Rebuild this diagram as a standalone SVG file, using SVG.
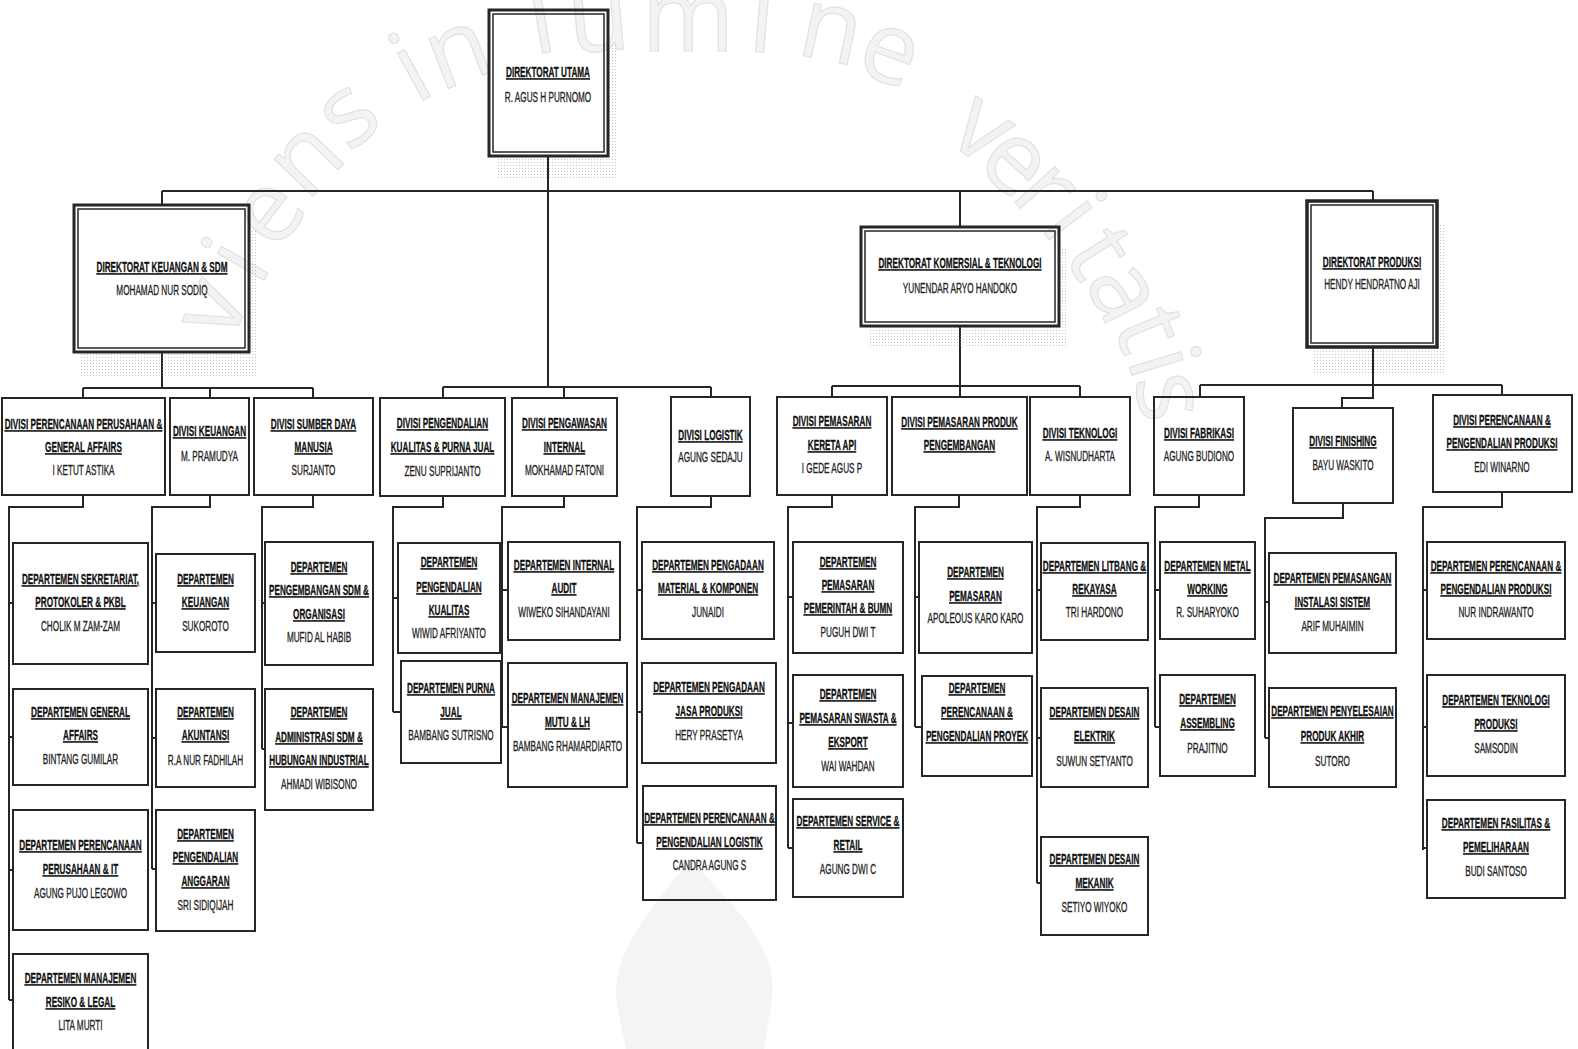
<svg xmlns="http://www.w3.org/2000/svg" width="1578" height="1049" viewBox="0 0 1578 1049">
<style>
text{font-family:"Liberation Sans",Arial,sans-serif;font-size:14px;text-anchor:middle;fill:#111;stroke:#111;stroke-width:.3}
.h{font-weight:bold;text-decoration:underline;text-decoration-thickness:1.5px}
.n{fill:#222;stroke:#222}
.node rect{fill:none;stroke:#262626;stroke-width:2}
.dir rect.o{fill:none;stroke:#262626;stroke-width:3}
.dir rect.i{fill:none;stroke:#262626;stroke-width:1.5}
.dir rect.sh{fill:url(#stip);stroke:none;opacity:.5}
.conn path{fill:none;stroke:#262626;stroke-width:2}
text.wl{font-family:"Open Sans","Liberation Sans",sans-serif;font-size:100px;fill:#f3f3f3;stroke:#e2e2e2;stroke-width:1.2;dominant-baseline:central}
</style>
<defs>
<pattern id="stip" width="3" height="3" patternUnits="userSpaceOnUse"><rect width="1" height="1" fill="#8a8a8a"/></pattern>
</defs>
<rect width="1578" height="1049" fill="#fff"/>
<g id="watermark">
<text class="wl" transform="translate(205 305) rotate(-66)">v</text>
<text class="wl" transform="translate(232 257) rotate(-60)">i</text>
<text class="wl" transform="translate(262 207) rotate(-53)">e</text>
<text class="wl" transform="translate(300 153) rotate(-46)">n</text>
<text class="wl" transform="translate(343 108) rotate(-39)">s</text>
<text class="wl" transform="translate(408 64) rotate(-29)">i</text>
<text class="wl" transform="translate(455 44) rotate(-21)">n</text>
<text class="wl" transform="translate(540 14) rotate(-10)">l</text>
<text class="wl" transform="translate(598 12) rotate(-5)">u</text>
<text class="wl" transform="translate(688 12) rotate(0)">m</text>
<text class="wl" transform="translate(763 13) rotate(5)">i</text>
<text class="wl" transform="translate(833 22) rotate(12)">n</text>
<text class="wl" transform="translate(893 44) rotate(20)">e</text>
<text class="wl" transform="translate(987 122) rotate(36)">v</text>
<text class="wl" transform="translate(1021 155) rotate(42)">e</text>
<text class="wl" transform="translate(1052 185) rotate(48)">r</text>
<text class="wl" transform="translate(1078 213) rotate(53)">i</text>
<text class="wl" transform="translate(1105 249) rotate(58)">t</text>
<text class="wl" transform="translate(1131 288) rotate(63)">a</text>
<text class="wl" transform="translate(1155 327) rotate(68)">t</text>
<text class="wl" transform="translate(1168 360) rotate(73)">i</text>
<text class="wl" transform="translate(1177 395) rotate(80)">s</text>
<path d="M690,860 C640,920 608,962 618,1010 L626,1049 L764,1049 L772,1000 C778,952 742,912 690,860 Z" fill="#f4f4f4"/>
</g>
<g id="connectors" class="conn">
<path d="M548,156 V387 M162,191 H1373 M162,191 V205 M960,191 V227 M1373,191 V201"/>
<path d="M162,352 V388 M83,388 H313 M83,388 V398 M210,388 V398 M313,388 V398"/>
<path d="M443,387 H711 M443,387 V398 M564,387 V398 M711,387 V397"/>
<path d="M960,326 V386 M832,386 H1080 M832,386 V397 M960,386 V397 M1080,386 V397"/>
<path d="M1373,347 V398 H1342 V408 M1200,385 H1502 M1200,385 V397 M1502,385 V395"/>
<path d="M83,495 V507 H9 V1000 M9,603 H13 M9,737 H13 M9,870 H13 M9,1000 H13"/>
<path d="M210,495 V507 H152 V869 M152,603 H156 M152,738 H156 M152,869 H156"/>
<path d="M313,495 V507 H262 V749 M262,603 H265 M262,749 H265"/>
<path d="M443,496 V507 H393 V712 M393,598 H398 M393,712 H401"/>
<path d="M564,496 V507 H502 V727 M502,590 H508 M502,727 H508"/>
<path d="M711,496 V507 H637 V843 M637,590 H642 M637,712 H642 M637,843 H643"/>
<path d="M832,495 V507 H788 V848 M788,597 H793 M788,723 H793 M788,848 H793"/>
<path d="M959,495 V507 H915 V727 M915,597 H919 M915,727 H922"/>
<path d="M1080,495 V507 H1037 V883 M1037,590 H1041 M1037,738 H1041 M1037,883 H1041"/>
<path d="M1199,495 V507 H1155 V727 M1155,590 H1160 M1155,727 H1160"/>
<path d="M1343,503 V518 H1265 V738 M1265,602 H1269 M1265,738 H1269"/>
<path d="M1502,492 V507 H1423 V850 M1423,590 H1427 M1423,727 H1427 M1423,848 H1427"/>
</g>

<g id="dir_utama" class="dir">
<rect class="sh" x="608" y="43" width="9" height="137"/><rect class="sh" x="497" y="156" width="111" height="24"/>
<rect class="o" x="489" y="10" width="119" height="146"/><rect class="i" x="493" y="14" width="111" height="138"/>
<g transform="translate(548 0) scale(.585 1)"><text class="h" y="77">DIREKTORAT UTAMA</text><text class="n" y="102">R. AGUS H PURNOMO</text></g>
</g>
<g id="dir_keuangan" class="dir">
<rect class="sh" x="249" y="230" width="9" height="147"/><rect class="sh" x="80" y="352" width="169" height="25"/>
<rect class="o" x="74" y="205" width="175" height="147"/><rect class="i" x="78" y="209" width="167" height="139"/>
<g transform="translate(162 0) scale(.585 1)"><text class="h" y="272">DIREKTORAT KEUANGAN &amp; SDM</text><text class="n" y="295">MOHAMAD NUR SODIQ</text></g>
</g>
<g id="dir_komersial" class="dir">
<rect class="sh" x="1059" y="247" width="9" height="100"/><rect class="sh" x="870" y="326" width="189" height="21"/>
<rect class="o" x="861" y="227" width="198" height="99"/><rect class="i" x="865" y="231" width="190" height="91"/>
<g transform="translate(960 0) scale(.585 1)"><text class="h" y="268">DIREKTORAT KOMERSIAL &amp; TEKNOLOGI</text><text class="n" y="293">YUNENDAR ARYO HANDOKO</text></g>
</g>
<g id="dir_produksi" class="dir">
<rect class="sh" x="1437" y="223" width="8" height="150"/><rect class="sh" x="1313" y="347" width="124" height="26"/>
<rect class="o" x="1307" y="201" width="130" height="146" style="stroke-width:3.5"/><rect class="i" x="1311" y="205" width="122" height="138"/>
<g transform="translate(1372 0) scale(.585 1)"><text class="h" y="267">DIREKTORAT PRODUKSI</text><text class="n" y="289">HENDY HENDRATNO AJI</text></g>
</g>

<g id="div_pp" class="node"><rect x="2" y="398" width="163" height="97"/>
<g transform="translate(83.5 0) scale(.585 1)"><text class="h" y="429">DIVISI PERENCANAAN PERUSAHAAN &amp;</text><text class="h" y="452">GENERAL AFFAIRS</text><text class="n" y="475">I KETUT ASTIKA</text></g></g>
<g id="div_keuangan" class="node"><rect x="170" y="398" width="79" height="97"/>
<g transform="translate(209.5 0) scale(.585 1)"><text class="h" y="436">DIVISI KEUANGAN</text><text class="n" y="461">M. PRAMUDYA</text></g></g>
<g id="div_sdm" class="node"><rect x="254" y="398" width="119" height="97"/>
<g transform="translate(313.5 0) scale(.585 1)"><text class="h" y="429">DIVISI SUMBER DAYA</text><text class="h" y="452">MANUSIA</text><text class="n" y="475">SURJANTO</text></g></g>
<g id="div_kualitas" class="node"><rect x="380" y="398" width="125" height="98"/>
<g transform="translate(442.5 0) scale(.585 1)"><text class="h" y="428">DIVISI PENGENDALIAN</text><text class="h" y="452">KUALITAS &amp; PURNA JUAL</text><text class="n" y="476">ZENU SUPRIJANTO</text></g></g>
<g id="div_pengawasan" class="node"><rect x="512" y="398" width="105" height="98"/>
<g transform="translate(564.5 0) scale(.585 1)"><text class="h" y="428">DIVISI PENGAWASAN</text><text class="h" y="452">INTERNAL</text><text class="n" y="475">MOKHAMAD FATONI</text></g></g>
<g id="div_logistik" class="node"><rect x="671" y="397" width="79" height="99"/>
<g transform="translate(710.5 0) scale(.585 1)"><text class="h" y="440">DIVISI LOGISTIK</text><text class="n" y="462">AGUNG SEDAJU</text></g></g>
<g id="div_ka" class="node"><rect x="777" y="397" width="110" height="98"/>
<g transform="translate(832 0) scale(.585 1)"><text class="h" y="426">DIVISI PEMASARAN</text><text class="h" y="450">KERETA API</text><text class="n" y="473">I GEDE AGUS P</text></g></g>
<g id="div_produk" class="node"><rect x="892" y="397" width="135" height="98"/>
<g transform="translate(959.5 0) scale(.585 1)"><text class="h" y="427">DIVISI PEMASARAN PRODUK</text><text class="h" y="450">PENGEMBANGAN</text></g></g>
<g id="div_teknologi" class="node"><rect x="1030" y="397" width="100" height="98"/>
<g transform="translate(1080 0) scale(.585 1)"><text class="h" y="438">DIVISI TEKNOLOGI</text><text class="n" y="461">A. WISNUDHARTA</text></g></g>
<g id="div_fabrikasi" class="node"><rect x="1154" y="397" width="90" height="98"/>
<g transform="translate(1199 0) scale(.585 1)"><text class="h" y="438">DIVISI FABRIKASI</text><text class="n" y="461">AGUNG BUDIONO</text></g></g>
<g id="div_finishing" class="node"><rect x="1293" y="408" width="100" height="95"/>
<g transform="translate(1343 0) scale(.585 1)"><text class="h" y="446">DIVISI FINISHING</text><text class="n" y="470">BAYU WASKITO</text></g></g>
<g id="div_ppp" class="node"><rect x="1433" y="395" width="139" height="97"/>
<g transform="translate(1502 0) scale(.585 1)"><text class="h" y="425">DIVISI PERENCANAAN &amp;</text><text class="h" y="448">PENGENDALIAN PRODUKSI</text><text class="n" y="472">EDI WINARNO</text></g></g>

<g id="dep_sekretariat" class="node"><rect x="13" y="543" width="135" height="121"/>
<g transform="translate(80.5 0) scale(.585 1)"><text class="h" y="584">DEPARTEMEN SEKRETARIAT,</text><text class="h" y="607">PROTOKOLER &amp; PKBL</text><text class="n" y="631">CHOLIK M ZAM-ZAM</text></g></g>
<g id="dep_ga" class="node"><rect x="13" y="689" width="135" height="96"/>
<g transform="translate(80.5 0) scale(.585 1)"><text class="h" y="717">DEPARTEMEN GENERAL</text><text class="h" y="740">AFFAIRS</text><text class="n" y="764">BINTANG GUMILAR</text></g></g>
<g id="dep_it" class="node"><rect x="13" y="810" width="135" height="120"/>
<g transform="translate(80.5 0) scale(.585 1)"><text class="h" y="850">DEPARTEMEN PERENCANAAN</text><text class="h" y="874">PERUSAHAAN &amp; IT</text><text class="n" y="898">AGUNG PUJO LEGOWO</text></g></g>
<g id="dep_resiko" class="node"><rect x="13" y="954" width="135" height="100"/>
<g transform="translate(80.5 0) scale(.585 1)"><text class="h" y="983">DEPARTEMEN MANAJEMEN</text><text class="h" y="1007">RESIKO &amp; LEGAL</text><text class="n" y="1030">LITA MURTI</text></g></g>

<g id="dep_keuangan" class="node"><rect x="156" y="554" width="99" height="98"/>
<g transform="translate(205.5 0) scale(.585 1)"><text class="h" y="584">DEPARTEMEN</text><text class="h" y="607">KEUANGAN</text><text class="n" y="631">SUKOROTO</text></g></g>
<g id="dep_akuntansi" class="node"><rect x="156" y="689" width="99" height="98"/>
<g transform="translate(205.5 0) scale(.585 1)"><text class="h" y="717">DEPARTEMEN</text><text class="h" y="740">AKUNTANSI</text><text class="n" y="765">R.A NUR FADHILAH</text></g></g>
<g id="dep_anggaran" class="node"><rect x="156" y="810" width="99" height="121"/>
<g transform="translate(205.5 0) scale(.585 1)"><text class="h" y="839">DEPARTEMEN</text><text class="h" y="862">PENGENDALIAN</text><text class="h" y="886">ANGGARAN</text><text class="n" y="910">SRI SIDIQIJAH</text></g></g>

<g id="dep_pengembangan_sdm" class="node"><rect x="265" y="542" width="108" height="123"/>
<g transform="translate(319 0) scale(.585 1)"><text class="h" y="572">DEPARTEMEN</text><text class="h" y="595">PENGEMBANGAN SDM &amp;</text><text class="h" y="619">ORGANISASI</text><text class="n" y="642">MUFID AL HABIB</text></g></g>
<g id="dep_administrasi_sdm" class="node"><rect x="265" y="689" width="108" height="121"/>
<g transform="translate(319 0) scale(.585 1)"><text class="h" y="717">DEPARTEMEN</text><text class="h" y="742">ADMINISTRASI SDM &amp;</text><text class="h" y="765">HUBUNGAN INDUSTRIAL</text><text class="n" y="789">AHMADI WIBISONO</text></g></g>

<g id="dep_kualitas" class="node"><rect x="398" y="543" width="102" height="110"/>
<g transform="translate(449 0) scale(.585 1)"><text class="h" y="567">DEPARTEMEN</text><text class="h" y="592">PENGENDALIAN</text><text class="h" y="615">KUALITAS</text><text class="n" y="638">WIWID AFRIYANTO</text></g></g>
<g id="dep_purna_jual" class="node"><rect x="401" y="661" width="100" height="102"/>
<g transform="translate(451 0) scale(.585 1)"><text class="h" y="693">DEPARTEMEN PURNA</text><text class="h" y="717">JUAL</text><text class="n" y="740">BAMBANG SUTRISNO</text></g></g>

<g id="dep_internal_audit" class="node"><rect x="508" y="542" width="112" height="98"/>
<g transform="translate(564 0) scale(.585 1)"><text class="h" y="570">DEPARTEMEN INTERNAL</text><text class="h" y="593">AUDIT</text><text class="n" y="617">WIWEKO SIHANDAYANI</text></g></g>
<g id="dep_mutu" class="node"><rect x="508" y="663" width="119" height="124"/>
<g transform="translate(567.5 0) scale(.585 1)"><text class="h" y="703">DEPARTEMEN MANAJEMEN</text><text class="h" y="727">MUTU &amp; LH</text><text class="n" y="751">BAMBANG RHAMARDIARTO</text></g></g>

<g id="dep_material" class="node"><rect x="642" y="542" width="132" height="97"/>
<g transform="translate(708 0) scale(.585 1)"><text class="h" y="570">DEPARTEMEN PENGADAAN</text><text class="h" y="593">MATERIAL &amp; KOMPONEN</text><text class="n" y="617">JUNAIDI</text></g></g>
<g id="dep_jasa" class="node"><rect x="642" y="663" width="134" height="100"/>
<g transform="translate(709 0) scale(.585 1)"><text class="h" y="692">DEPARTEMEN PENGADAAN</text><text class="h" y="716">JASA PRODUKSI</text><text class="n" y="740">HERY PRASETYA</text></g></g>
<g id="dep_logistik" class="node"><rect x="643" y="786" width="133" height="114"/>
<g transform="translate(709.5 0) scale(.585 1)"><text class="h" y="823">DEPARTEMEN PERENCANAAN &amp;</text><text class="h" y="847">PENGENDALIAN LOGISTIK</text><text class="n" y="870">CANDRA AGUNG S</text></g></g>

<g id="dep_pemerintah" class="node"><rect x="793" y="542" width="110" height="111"/>
<g transform="translate(848 0) scale(.585 1)"><text class="h" y="567">DEPARTEMEN</text><text class="h" y="590">PEMASARAN</text><text class="h" y="613">PEMERINTAH &amp; BUMN</text><text class="n" y="637">PUGUH DWI T</text></g></g>
<g id="dep_swasta" class="node"><rect x="793" y="675" width="110" height="112"/>
<g transform="translate(848 0) scale(.585 1)"><text class="h" y="699">DEPARTEMEN</text><text class="h" y="723">PEMASARAN SWASTA &amp;</text><text class="h" y="747">EKSPORT</text><text class="n" y="771">WAI WAHDAN</text></g></g>
<g id="dep_service" class="node"><rect x="793" y="799" width="110" height="98"/>
<g transform="translate(848 0) scale(.585 1)"><text class="h" y="826">DEPARTEMEN SERVICE &amp;</text><text class="h" y="850">RETAIL</text><text class="n" y="874">AGUNG DWI C</text></g></g>

<g id="dep_pemasaran" class="node"><rect x="919" y="542" width="113" height="111"/>
<g transform="translate(975.5 0) scale(.585 1)"><text class="h" y="577">DEPARTEMEN</text><text class="h" y="601">PEMASARAN</text><text class="n" y="623">APOLEOUS KARO KARO</text></g></g>
<g id="dep_proyek" class="node"><rect x="922" y="676" width="110" height="100"/>
<g transform="translate(977 0) scale(.585 1)"><text class="h" y="693">DEPARTEMEN</text><text class="h" y="717">PERENCANAAN &amp;</text><text class="h" y="741">PENGENDALIAN PROYEK</text></g></g>

<g id="dep_litbang" class="node"><rect x="1041" y="543" width="107" height="97"/>
<g transform="translate(1094.5 0) scale(.585 1)"><text class="h" y="571">DEPARTEMEN LITBANG &amp;</text><text class="h" y="594">REKAYASA</text><text class="n" y="617">TRI HARDONO</text></g></g>
<g id="dep_elektrik" class="node"><rect x="1041" y="688" width="107" height="99"/>
<g transform="translate(1094.5 0) scale(.585 1)"><text class="h" y="717">DEPARTEMEN DESAIN</text><text class="h" y="741">ELEKTRIK</text><text class="n" y="766">SUWUN SETYANTO</text></g></g>
<g id="dep_mekanik" class="node"><rect x="1041" y="837" width="107" height="98"/>
<g transform="translate(1094.5 0) scale(.585 1)"><text class="h" y="864">DEPARTEMEN DESAIN</text><text class="h" y="888">MEKANIK</text><text class="n" y="912">SETIYO WIYOKO</text></g></g>

<g id="dep_metal" class="node"><rect x="1160" y="542" width="95" height="97"/>
<g transform="translate(1207.5 0) scale(.585 1)"><text class="h" y="571">DEPARTEMEN METAL</text><text class="h" y="594">WORKING</text><text class="n" y="617">R. SUHARYOKO</text></g></g>
<g id="dep_assembling" class="node"><rect x="1160" y="675" width="95" height="101"/>
<g transform="translate(1207.5 0) scale(.585 1)"><text class="h" y="704">DEPARTEMEN</text><text class="h" y="728">ASSEMBLING</text><text class="n" y="753">PRAJITNO</text></g></g>

<g id="dep_pemasangan" class="node"><rect x="1269" y="553" width="127" height="100"/>
<g transform="translate(1332.5 0) scale(.585 1)"><text class="h" y="583">DEPARTEMEN PEMASANGAN</text><text class="h" y="607">INSTALASI SISTEM</text><text class="n" y="631">ARIF MUHAIMIN</text></g></g>
<g id="dep_penyelesaian" class="node"><rect x="1269" y="688" width="127" height="99"/>
<g transform="translate(1332.5 0) scale(.585 1)"><text class="h" y="716">DEPARTEMEN PENYELESAIAN</text><text class="h" y="741">PRODUK AKHIR</text><text class="n" y="766">SUTORO</text></g></g>

<g id="dep_ppp" class="node"><rect x="1427" y="542" width="138" height="97"/>
<g transform="translate(1496 0) scale(.585 1)"><text class="h" y="571">DEPARTEMEN PERENCANAAN &amp;</text><text class="h" y="594">PENGENDALIAN PRODUKSI</text><text class="n" y="617">NUR INDRAWANTO</text></g></g>
<g id="dep_tekprod" class="node"><rect x="1427" y="675" width="138" height="101"/>
<g transform="translate(1496 0) scale(.585 1)"><text class="h" y="705">DEPARTEMEN TEKNOLOGI</text><text class="h" y="729">PRODUKSI</text><text class="n" y="753">SAMSODIN</text></g></g>
<g id="dep_fasilitas" class="node"><rect x="1427" y="800" width="138" height="98"/>
<g transform="translate(1496 0) scale(.585 1)"><text class="h" y="828">DEPARTEMEN FASILITAS &amp;</text><text class="h" y="852">PEMELIHARAAN</text><text class="n" y="876">BUDI SANTOSO</text></g></g>
</svg>
